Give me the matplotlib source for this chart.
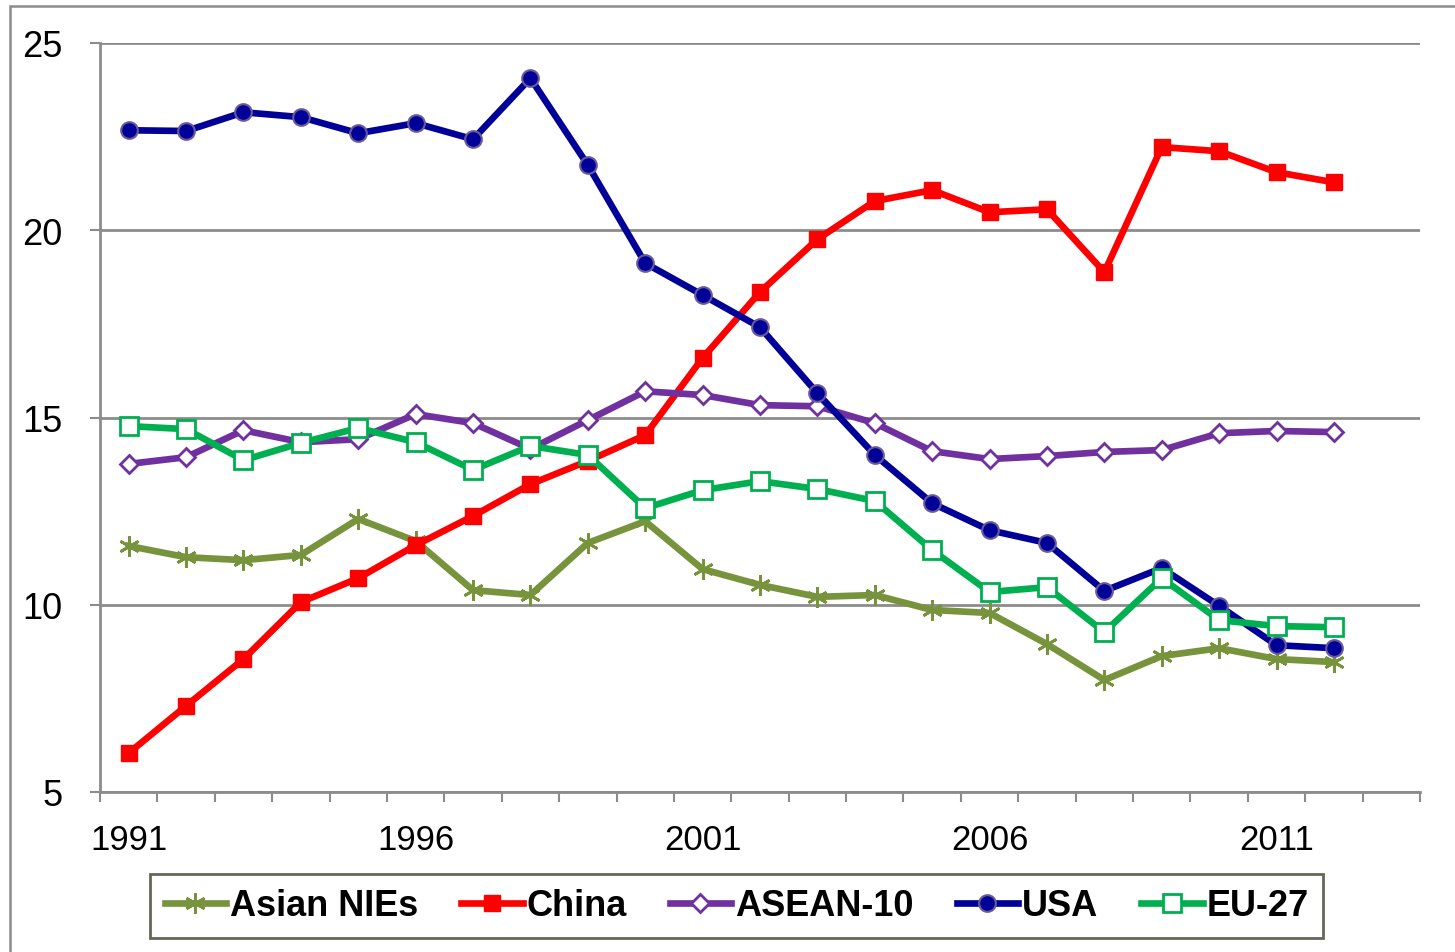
import numpy as np
import matplotlib
matplotlib.use("Agg")
import matplotlib.pyplot as plt
from matplotlib.patches import Rectangle

plt.rcParams['font.family'] = ['Liberation Sans', 'DejaVu Sans']

# data (share, %)
years = list(range(1991, 2013))
asian_nies = [11.57, 11.27, 11.19, 11.33, 12.29, 11.70, 10.39, 10.26, 11.65, 12.23, 10.95,
              10.53, 10.21, 10.26, 9.86, 9.78, 8.95, 7.99, 8.63, 8.84, 8.55, 8.47]
china = [6.04, 7.30, 8.55, 10.07, 10.71, 11.59, 12.37, 13.22, 13.84, 14.53, 16.59,
         18.35, 19.76, 20.78, 21.07, 20.48, 20.56, 18.88, 22.22, 22.11, 21.55, 21.28]
asean10 = [13.76, 13.94, 14.66, 14.34, 14.42, 15.09, 14.85, 14.16, 14.93, 15.70, 15.60,
           15.33, 15.30, 14.85, 14.10, 13.89, 13.97, 14.08, 14.13, 14.58, 14.64, 14.61]
usa = [22.67, 22.65, 23.15, 23.02, 22.59, 22.86, 22.43, 24.06, 21.74, 19.12, 18.27,
       17.41, 15.65, 14.00, 12.71, 11.99, 11.65, 10.37, 10.98, 9.97, 8.92, 8.84]
eu27 = [14.77, 14.69, 13.86, 14.32, 14.72, 14.34, 13.60, 14.24, 14.00, 12.58, 13.06,
        13.30, 13.09, 12.77, 11.46, 10.34, 10.47, 9.27, 10.71, 9.59, 9.43, 9.40]
year_labels = [1991, 1996, 2001, 2006, 2011]

fig = plt.figure(figsize=(14.55, 9.53), dpi=100)
ax = fig.add_axes([100/1455, 1 - 793/953, 1320/1455, 749/953])

lw = 4.8
ax.plot(years, asian_nies, color='#77933C', lw=lw, marker=(6, 2, 0), ms=15,
        mew=2, mec='#77933C', label='Asian NIEs')
ax.plot(years, china, color='#FF0000', lw=lw, marker='s', ms=12,
        mfc='#FF0000', mec='#FF0000', label='China')
ax.plot(years, asean10, color='#7030A0', lw=lw, marker='D', ms=9.5,
        mfc='white', mec='#7030A0', mew=2, label='ASEAN-10')
ax.plot(years, usa, color='#000099', lw=lw, marker='o', ms=12,
        mfc='#000099', mec='#6A5A9A', mew=1.5, label='USA')
ax.plot(years, eu27, color='#00B050', lw=lw, marker='s', ms=12.5,
        mfc='white', mec='#00B050', mew=2, label='EU-27')

ax.set_xlim(1990.5, 2013.5)
ax.set_ylim(5, 25)
ax.set_yticks([5, 10, 15, 20, 25])
ax.yaxis.grid(True, color='#8C8C8C', lw=2)
ax.set_axisbelow(True)

ax.set_xticks(year_labels)
ax.set_xticklabels([str(y) for y in year_labels])
ax.set_xticks(np.arange(1990.5, 2014.0, 1.0), minor=True)
ax.tick_params(axis='x', which='major', length=0, pad=22, labelsize=25)
ax.tick_params(axis='x', which='minor', length=7, width=1.5, color='#8C8C8C')
ax.tick_params(axis='y', length=7, width=1.5, color='#8C8C8C', pad=20, labelsize=26)

for s in ['top', 'right']:
    ax.spines[s].set_visible(False)
for s in ['left', 'bottom']:
    ax.spines[s].set_color('#8C8C8C')
    ax.spines[s].set_linewidth(2)

leg = fig.legend(loc='center', bbox_to_anchor=(736.5/1455, 1 - 907/953), ncol=5,
                 prop={'weight': 'bold', 'size': 26}, frameon=True, fancybox=False,
                 handlelength=1.7, handletextpad=0.1, columnspacing=1.2,
                 borderpad=0.4, borderaxespad=0)
leg.get_frame().set_edgecolor('#3F3F2F')
leg.get_frame().set_linewidth(2)

# outer chart border
fig.patches.append(Rectangle((10/1455, -0.1), 1.2, 1.1 - 7/953, transform=fig.transFigure,
                             fill=False, edgecolor='#8C8C8C', lw=1.8))

fig.savefig('out.png', dpi=100)
